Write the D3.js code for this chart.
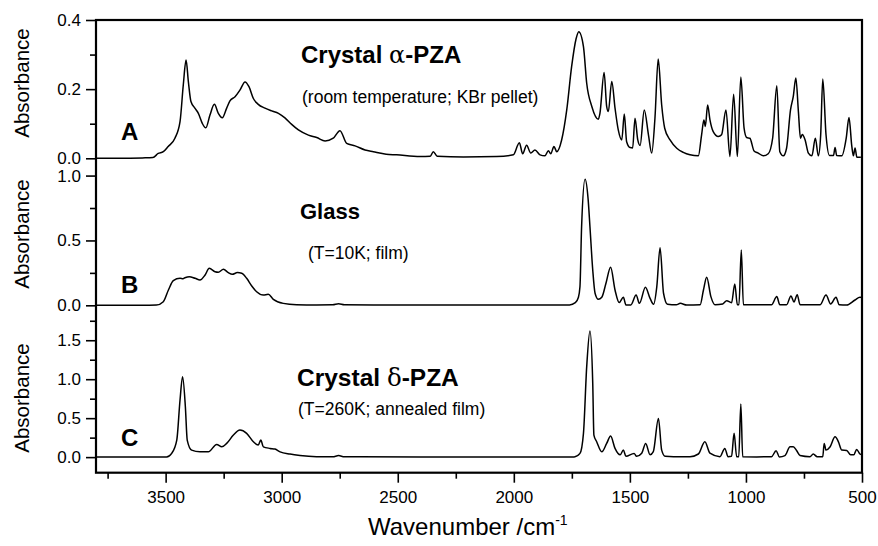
<!DOCTYPE html>
<html>
<head>
<meta charset="utf-8">
<script src="https://cdn.jsdelivr.net/npm/d3@7"></script>
<style>
  body { margin: 0; background: #fff; }
  text { font-family: "Liberation Sans", Arial, sans-serif; fill: #000; }
</style>
</head>
<body>
<main></main>
<script>
// wavenumber (cm-1), absorbance
const crystalAlpha = [
  [3800,0],[3700,0],[3600,0.001],[3555,0.002],[3532,0.014],[3510,0.019],[3489,0.034],[3460,0.058],
  [3438,0.106],[3424,0.212],[3412,0.284],[3402,0.221],[3391,0.164],[3374,0.145],[3359,0.130],[3342,0.101],
  [3327,0.088],[3309,0.125],[3290,0.156],[3273,0.130],[3256,0.117],[3237,0.145],[3223,0.166],[3201,0.178],
  [3180,0.197],[3158,0.221],[3141,0.207],[3122,0.173],[3101,0.156],[3072,0.145],[3043,0.137],[3014,0.130],
  [2986,0.117],[2957,0.098],[2928,0.082],[2885,0.067],[2849,0.060],[2813,0.050],[2778,0.058],[2749,0.080],
  [2720,0.043],[2684,0.036],[2641,0.024],[2605,0.019],[2550,0.012],[2505,0.010],[2404,0.005],[2360,0.006],
  [2347,0.019],[2330,0.006],[2217,0.004],[2074,0.005],[2002,0.010],[1976,0.045],[1962,0.013],[1945,0.038],
  [1927,0.015],[1909,0.024],[1887,0.010],[1866,0.007],[1851,0.022],[1841,0.013],[1827,0.034],[1815,0.019],
  [1794,0.053],[1772,0.140],[1751,0.265],[1732,0.345],[1720,0.366],[1700,0.323],[1686,0.217],[1664,0.150],
  [1636,0.113],[1629,0.130],[1611,0.248],[1600,0.150],[1593,0.135],[1578,0.222],[1564,0.145],[1550,0.082],
  [1535,0.053],[1524,0.128],[1514,0.048],[1499,0.031],[1488,0.030],[1478,0.116],[1466,0.053],[1456,0.037],
  [1438,0.140],[1420,0.068],[1406,0.015],[1392,0.116],[1378,0.287],[1363,0.154],[1350,0.087],[1327,0.053],
  [1298,0.029],[1270,0.017],[1241,0.010],[1205,0.007],[1191,0.068],[1181,0.111],[1175,0.092],[1165,0.154],
  [1155,0.111],[1141,0.077],[1119,0.063],[1105,0.068],[1086,0.140],[1069,0.005],[1053,0.185],[1037,0.005],
  [1022,0.235],[1008,0.087],[997,0.060],[983,0.058],[965,0.021],[947,0.015],[925,0.007],[904,0.013],
  [885,0.058],[867,0.210],[854,0.019],[839,0.007],[825,0.029],[808,0.140],[796,0.179],[785,0.232],
  [774,0.135],[765,0.058],[757,0.069],[745,0.053],[731,0.015],[716,0.007],[701,0.058],[688,0.007],
  [678,0.068],[669,0.229],[655,0.068],[640,0.008],[623,0.008],[616,0.031],[609,0.008],[587,0.007],
  [568,0.058],[556,0.118],[544,0.035],[537,0.007],[530,0.030],[522,0.003],[505,0.003]
];

const glass = [
  [3800,0],[3600,0],[3540,0.002],[3510,0.028],[3488,0.118],[3467,0.190],[3438,0.208],[3425,0.205],
  [3417,0.212],[3398,0.221],[3373,0.208],[3352,0.195],[3330,0.234],[3312,0.285],[3287,0.259],[3273,0.255],
  [3251,0.278],[3230,0.252],[3213,0.239],[3191,0.252],[3172,0.247],[3151,0.208],[3129,0.149],[3108,0.105],
  [3079,0.079],[3058,0.085],[3036,0.046],[2993,0.015],[2936,0.005],[2850,0.003],[2780,0.004],[2755,0.012],
  [2730,0.004],[2400,0.002],[2000,0.002],[1760,0.003],[1735,0.020],[1722,0.060],[1715,0.144],[1708,0.606],
  [1693,0.972],[1680,0.820],[1672,0.606],[1660,0.272],[1650,0.093],[1636,0.046],[1621,0.062],[1603,0.170],
  [1583,0.293],[1564,0.118],[1546,0.021],[1528,0.062],[1517,0.003],[1496,0.003],[1473,0.079],[1459,0.015],
  [1433,0.139],[1413,0.054],[1398,0.008],[1384,0.144],[1370,0.444],[1355,0.093],[1338,0.008],[1300,0.004],
  [1283,0.015],[1255,0.002],[1197,0.005],[1183,0.118],[1169,0.216],[1151,0.067],[1133,0.004],[1100,0.010],
  [1083,0.036],[1062,0.020],[1048,0.164],[1037,0.005],[1030,0.005],[1020,0.427],[1011,0.004],[940,0.004],
  [890,0.004],[867,0.067],[854,0.004],[825,0.004],[806,0.072],[793,0.026],[779,0.082],[767,0.004],
  [681,0.004],[655,0.079],[635,0.010],[612,0.062],[598,0.004],[566,0.002],[530,0.041],[509,0.062],[500,0.060]
];

const crystalDelta = [
  [3800,0],[3600,0],[3496,0.002],[3474,0.048],[3452,0.219],[3438,0.733],[3427,1.032],[3415,0.647],
  [3407,0.219],[3388,0.090],[3352,0.068],[3316,0.068],[3280,0.163],[3258,0.132],[3237,0.176],[3208,0.283],
  [3180,0.347],[3151,0.305],[3122,0.197],[3101,0.154],[3090,0.219],[3079,0.132],[3050,0.112],[3029,0.103],
  [3007,0.068],[2964,0.039],[2921,0.021],[2850,0.006],[2780,0.004],[2755,0.020],[2730,0.004],[2400,0.002],
  [2000,0.002],[1740,0.003],[1715,0.048],[1700,0.305],[1686,1.161],[1672,1.620],[1660,0.947],[1655,0.283],
  [1643,0.197],[1621,0.068],[1600,0.176],[1583,0.270],[1564,0.112],[1542,0.030],[1528,0.090],[1517,0.010],
  [1482,0.048],[1471,0.010],[1449,0.050],[1432,0.176],[1413,0.030],[1399,0.070],[1377,0.497],[1363,0.090],
  [1348,0.010],[1312,0.005],[1241,0.005],[1205,0.040],[1177,0.197],[1155,0.050],[1112,0.005],[1091,0.112],
  [1077,0.005],[1062,0.010],[1051,0.305],[1040,0.005],[1031,0.005],[1022,0.681],[1014,0.005],[954,0.003],
  [890,0.005],[870,0.081],[856,0.003],[832,0.020],[810,0.132],[796,0.132],[782,0.085],[767,0.020],
  [724,0.005],[710,0.040],[693,0.005],[669,0.005],[663,0.176],[655,0.090],[638,0.130],[616,0.261],
  [602,0.200],[587,0.090],[566,0.085],[549,0.030],[535,0.030],[523,0.099],[509,0.040],[500,0.030]
];

const xMajor = [3500, 3000, 2500, 2000, 1500, 1000, 500];
const xMinor = [3750, 3250, 2750, 2250, 1750, 1250, 750];
const yMajorA = [0, 0.2, 0.4], yMinorA = [0.1, 0.3];
const yMajorB = [0, 0.5, 1.0], yMinorB = [0.25, 0.75];
const yMajorC = [0, 0.5, 1.0, 1.5], yMinorC = [0.25, 0.75, 1.25, 1.75];

const size = {width: 878, height: 546};
const frame = {left: 96, right: 862, top: 20, bottom: 472.7};

const svg = d3.select('main')
  .append('svg')
  .attr('width', size.width)
  .attr('height', size.height);

const x = d3.scaleLinear().domain([3800, 500]).range([frame.left, frame.right]);

// three stacked panels sharing the x axis
const panels = [
  {data: crystalAlpha, y: d3.scaleLinear().domain([-0.02, 0.4]).range([165.2, frame.top]),
   major: yMajorA, minor: yMinorA, letter: 'A', letterY: 140, labelY: 83},
  {data: glass, y: d3.scaleLinear().domain([-0.05, 1.08]).range([311.8, 165.2]),
   major: yMajorB, minor: yMinorB, letter: 'B', letterY: 293, labelY: 234},
  {data: crystalDelta, y: d3.scaleLinear().domain([-0.2, 1.865]).range([frame.bottom, 311.8]),
   major: yMajorC, minor: yMinorC, letter: 'C', letterY: 446, labelY: 398}
];

panels.forEach(p => {
  const major = svg.append('g')
    .attr('transform', `translate(${frame.left},0)`)
    .call(d3.axisLeft(p.y).tickValues(p.major).tickFormat(d3.format('.1f')).tickSize(10).tickPadding(5));
  major.select('.domain').remove();
  major.selectAll('line').attr('stroke-width', 1.6);
  major.selectAll('text').style('font-size', '17px').style('font-family', '"Liberation Sans", Arial, sans-serif');

  const minor = svg.append('g')
    .attr('transform', `translate(${frame.left},0)`)
    .call(d3.axisLeft(p.y).tickValues(p.minor).tickFormat('').tickSize(6));
  minor.select('.domain').remove();
  minor.selectAll('line').attr('stroke-width', 1.6);

  svg.append('path')
    .datum(p.data)
    .attr('fill', 'none')
    .attr('stroke', '#000')
    .attr('stroke-width', 1.5)
    .attr('stroke-linejoin', 'round')
    .attr('d', d3.line().x(d => x(d[0])).y(d => p.y(d[1])).curve(d3.curveMonotoneX));

  svg.append('text')
    .attr('x', 121).attr('y', p.letterY)
    .style('font-size', '24px').style('font-weight', 'bold')
    .text(p.letter);

  svg.append('text')
    .attr('transform', `translate(29,${p.labelY}) rotate(-90)`)
    .attr('text-anchor', 'middle')
    .style('font-size', '20.5px')
    .text('Absorbance');
});

// bottom axis
const xAxis = svg.append('g')
  .attr('transform', `translate(0,${frame.bottom})`)
  .call(d3.axisBottom(x).tickValues(xMajor).tickFormat(d3.format('d')).tickSize(10).tickPadding(8));
xAxis.select('.domain').remove();
xAxis.selectAll('line').attr('stroke-width', 1.6);
xAxis.selectAll('text').style('font-size', '17px').style('font-family', '"Liberation Sans", Arial, sans-serif');

const xMinorAxis = svg.append('g')
  .attr('transform', `translate(0,${frame.bottom})`)
  .call(d3.axisBottom(x).tickValues(xMinor).tickFormat('').tickSize(6));
xMinorAxis.select('.domain').remove();
xMinorAxis.selectAll('line').attr('stroke-width', 1.6);

// frame
svg.append('rect')
  .attr('x', frame.left).attr('y', frame.top)
  .attr('width', frame.right - frame.left).attr('height', frame.bottom - frame.top)
  .attr('fill', 'none').attr('stroke', '#000').attr('stroke-width', 2.2);

// x title
const xTitle = svg.append('text')
  .attr('x', 368).attr('y', 535)
  .style('font-size', '24px');
xTitle.append('tspan').text('Wavenumber /cm');
xTitle.append('tspan').attr('dy', -10).style('font-size', '14px').text('-1');

// panel annotations
const heading = (tx, ty, size, pre, greek, post) => {
  const t = svg.append('text').attr('x', tx).attr('y', ty)
    .style('font-size', size).style('font-weight', 'bold');
  t.append('tspan').text(pre);
  if (greek) {
    t.append('tspan').style('font-family', '"DejaVu Serif", serif').style('font-weight', 'normal').text(greek);
    t.append('tspan').text(post);
  }
};
const note = (tx, ty, str) => {
  svg.append('text').attr('x', tx).attr('y', ty).style('font-size', '17.5px').text(str);
};

heading(301, 63, '24px', 'Crystal ', '\u03b1', '-PZA');
note(302, 103, '(room temperature; KBr pellet)');
heading(300, 219, '22px', 'Glass');
note(308, 259, '(T=10K; film)');
heading(297, 386, '24.5px', 'Crystal ', '\u03b4', '-PZA');
note(298, 415, '(T=260K; annealed film)');
</script>
</body>
</html>
